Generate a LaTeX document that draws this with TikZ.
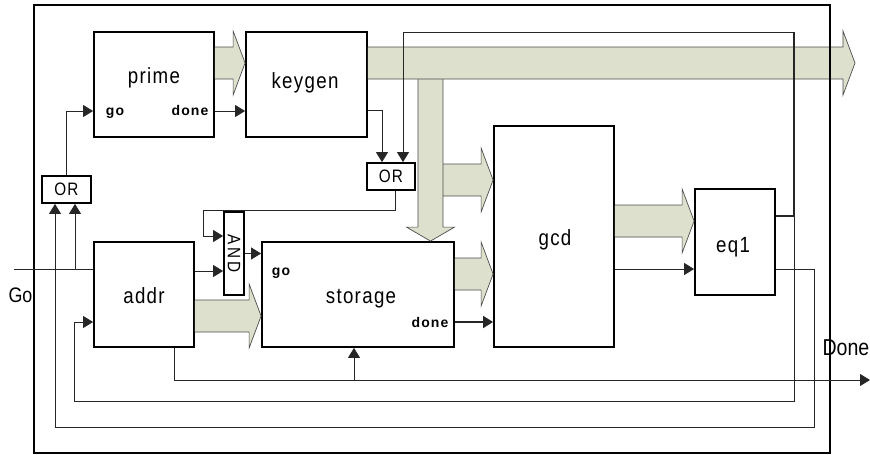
\documentclass[tikz,border=0pt]{standalone}
\usepackage{fontspec}
\setmainfont{Liberation Sans}[FakeStretch=0.85, LetterSpace=6]
\newfontfamily\portfont{Liberation Sans}[LetterSpace=8]
\newfontfamily\gatefont{Liberation Sans}[FakeStretch=0.85, LetterSpace=18]
\newfontfamily\pinfont{Liberation Sans}[FakeStretch=0.85]
\usetikzlibrary{arrows.meta, calc}
\definecolor{busfill}{RGB}{221,224,204}

\begin{document}
\begin{tikzpicture}[
    x=1pt, y=-1pt,
    blk/.style={draw=black, line width=1.8pt, fill=white, inner sep=0pt},
    frame/.style={draw=black, line width=1.8pt, inner sep=0pt},
    blkname/.style={anchor=base, font=\fontsize{22}{24}\selectfont},
    port/.style={anchor=base, font=\portfont\bfseries\fontsize{14}{16}\selectfont},
    gate/.style={font=\fontsize{18}{20}\selectfont},
    wire/.style={draw=black!85, line width=0.8pt, >={Triangle[length=10pt, width=12pt]}},
    wirethick/.style={wire, line width=1.8pt},
    bus/.style={draw=black!70, line width=0.7pt, fill=busfill},
    fatR/.style={to path={let \p1=(\tikztostart), \p2=(\tikztotarget) in
        (\x1,\y1+16pt) -- (\x2-12pt,\y1+16pt) -- (\x2-12pt,\y1+32pt) -- (\x2,\y1)
        -- (\x2-12pt,\y1-32pt) -- (\x2-12pt,\y1-16pt) -- (\x1,\y1-16pt)}},
    fatD/.style={to path={let \p1=(\tikztostart), \p2=(\tikztotarget) in
        (\x1-12.5pt,\y1) -- (\x1-12.5pt,\y2+14pt) -- (\x1-24pt,\y2+14pt) -- (\x1,\y2)
        -- (\x1+24pt,\y2+14pt) -- (\x1+12.5pt,\y2+14pt) -- (\x1+12.5pt,\y1)}}
]
\useasboundingbox (0,0) rectangle (870,455);

% Blocks
\node[blk, minimum width=120pt, minimum height=105pt] (prime) at (154, 84.5) {};
\node[blk, minimum width=121pt, minimum height=105pt] (keygen) at (306.5, 84.5) {};
\node[blk, minimum width=100pt, minimum height=105pt] (addr) at (144, 294.5) {};
\node[blk, minimum width=192pt, minimum height=105pt] (storage) at (358, 294.5) {};
\node[blk, minimum width=120pt, minimum height=221pt] (gcd) at (554, 236.5) {};
\node[blk, minimum width=80pt, minimum height=106pt] (eq1) at (735, 242) {};
\node[blk, gate, minimum width=49pt, minimum height=27pt] (or1) at (66.5, 189.5) {OR};
\node[blk, gate, minimum width=48pt, minimum height=27pt] (or2) at (391, 176.5) {OR};
\node[blk, minimum width=20pt, minimum height=83pt] (and) at (234, 253.5) {};
\node[gate, rotate=-90] (andT) at (and.center) {\gatefont AND};

% Block names
\node[blkname] (primeT) at (154, 83) {prime};
\node[blkname] (keygenT) at (305, 88) {keygen};
\node[blkname] (addrT) at (144, 303) {addr};
\node[blkname] (storageT) at (361, 303) {storage};
\node[blkname] (gcdT) at (555, 245) {gcd};
\node[blkname] (eq1T) at (733, 252) {eq1};

% Port labels
\node[port] (primeGo) at (115, 115) {go};
\node[port] (primeDone) at (190, 115) {done};
\node[port] (storageGo) at (281, 275) {go};
\node[port] (storageDone) at (430, 327) {done};

% Buses
\coordinate (busend) at (855, 63);
\coordinate (tap) at (430.5, 79);
\coordinate (tap2) at (443, 180);
\draw[bus, fatR] (tap2) to (tap2 -| gcd.west);
\draw[bus, fatD] (tap) to (tap |- storage.north);
\draw[bus, fatR] (keygen.east |- busend) to (busend);
\draw[bus, fatR] (prime.east |- busend) to (keygen.west |- busend);
\draw[bus, fatR] ([yshift=20.5pt]storage.east) to ([yshift=20.5pt]storage.east -| gcd.west);
\draw[bus, fatR] ([yshift=-21.5pt]addr.east) to ([yshift=-21.5pt]addr.east -| storage.west);
\draw[bus, fatR] ([yshift=21pt]eq1.west -| gcd.east) to ([yshift=21pt]eq1.west);

% Outer frame
\node[frame, minimum width=796pt, minimum height=448pt] (chip) at (432, 229) {};

% Control wires
\coordinate (goin) at (14, 269);
\coordinate (laneT) at (794, 32);
\coordinate (laneB) at (74, 401);
\coordinate (laneC) at (814, 427);
\coordinate (andjog) at (203, 210);
\coordinate (doneout) at (870, 380);

\draw[wire] (goin) -- (goin -| addr.west);
\draw[wire, ->] ([xshift=8.5pt]or1.south |- goin) -- ([xshift=8.5pt]or1.south);
\draw[wire, ->] (or1.north) |- ([yshift=-26.5pt]prime.west);
\draw[wire, ->] ([yshift=-26.5pt]prime.east) -- ([yshift=-26.5pt]keygen.west);
\draw[wire, ->] ([yshift=-25.5pt]keygen.east) -| ([xshift=-9pt]or2.north);
\draw[wire, ->] ([yshift=26pt]eq1.east) -| (laneT) -| ([xshift=12pt]or2.north);
\draw[wire, line width=1.6pt] ([yshift=26pt]eq1.east) -| (laneT);
\draw[wire, ->] ([yshift=26pt]eq1.east) -| (laneT |- laneB) -- (laneB) |- ([yshift=-27.5pt]addr.west);
\draw[wire, ->] ([yshift=-27pt]eq1.east) -| (laneC) -| ([xshift=-11.5pt]or1.south);
\draw[wire, ->] ([xshift=4pt]or2.south) |- (andjog) |- ([yshift=17.5pt]and.west);
\draw[wire, ->] ([yshift=-17.5pt]and.west -| addr.east) -- ([yshift=-17.5pt]and.west);
\draw[wire, ->] (and.east) -- (and.east -| storage.west);
\draw[wirethick, ->] ([yshift=-27.5pt]storage.east) -- ([yshift=-27.5pt]storage.east -| gcd.west);
\draw[wire, ->] ([yshift=-27pt]eq1.west -| gcd.east) -- ([yshift=-27pt]eq1.west);
\draw[wire, ->] ([xshift=30pt]addr.south) |- (doneout);
\draw[wire, ->] ([xshift=-4pt]storage.south |- doneout) -- ([xshift=-4pt]storage.south);

% Top level pins
\node[anchor=base west, font=\pinfont\fontsize{21}{23}\selectfont] (goL) at (5, 302) {Go};
\node[anchor=base west, font=\pinfont\fontsize{23}{25}\selectfont] (doneL) at (819, 355) {Done};

\end{tikzpicture}
\end{document}
